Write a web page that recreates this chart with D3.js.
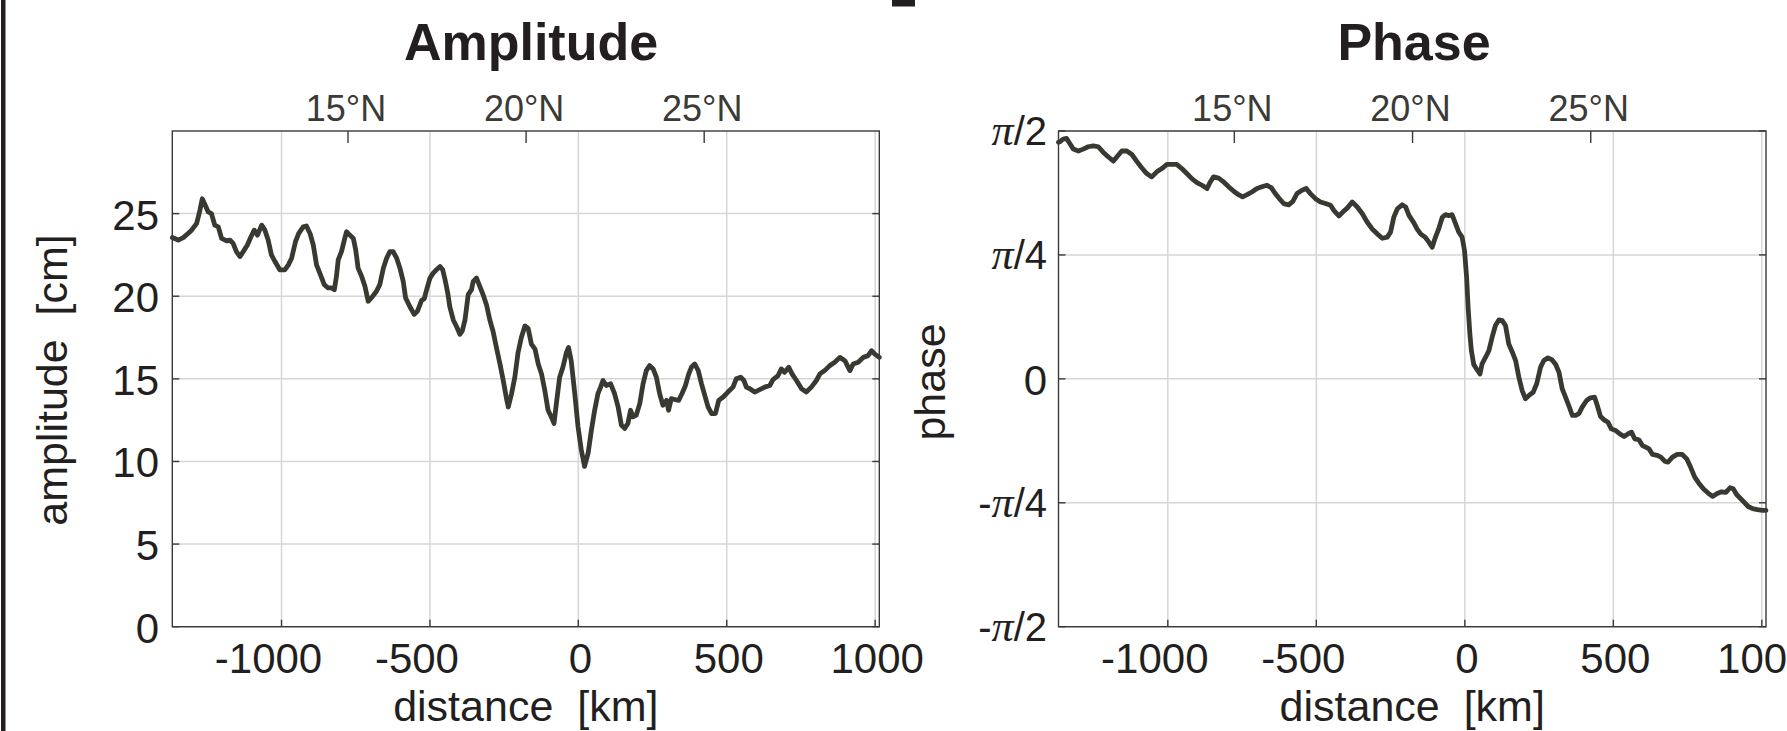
<!DOCTYPE html>
<html>
<head>
<meta charset="utf-8">
<script src="https://cdn.jsdelivr.net/npm/d3@7"></script>
<style>
  html, body { margin: 0; padding: 0; background: #fff; }
  svg { display: block; }
</style>
</head>
<body>
<script>
// ---- data -------------------------------------------------------------
// along-track distance [km] and tidal amplitude [cm]
const ampDist = [-1368,-1348,-1331,-1315,-1303,-1286,-1275,-1267,-1258,-1247,-1236,-1225,-1213,-1202,-1185,-1174,-1163,-1152,-1140,-1129,-1115,-1103,-1092,-1081,-1067,-1056,-1045,-1034,-1022,-1006,-989,-977,-966,-953,-942,-927,-916,-904,-893,-882,-871,-856,-843,-831,-822,-815,-809,-798,-787,-781,-770,-758,-750,-742,-730,-719,-708,-697,-680,-669,-657,-646,-635,-624,-612,-601,-590,-582,-567,-553,-542,-528,-519,-511,-500,-489,-478,-466,-457,-449,-440,-433,-421,-410,-399,-391,-382,-371,-360,-354,-343,-332,-321,-309,-298,-287,-276,-264,-253,-242,-236,-225,-214,-203,-192,-180,-169,-158,-146,-135,-124,-113,-102,-91,-82,-74,-63,-52,-40,-33,-24,-12,-1,10,21,33,44,55,66,75,83,94,109,122,134,145,156,167,176,184,195,207,218,229,240,252,263,274,285,297,304,313,325,338,349,361,372,381,392,404,415,426,437,449,462,473,488,504,521,532,547,558,566,578,594,611,628,645,656,673,684,695,709,720,735,752,768,785,802,814,830,847,864,881,898,915,926,943,960,976,988,999,1014];
const amplitude = [23.55,23.4,23.55,23.8,24.0,24.4,25.2,25.9,25.55,25.1,25.0,24.3,24.2,23.5,23.35,23.4,23.2,22.7,22.4,22.7,23.1,23.6,24.0,23.7,24.3,24.0,23.4,22.5,22.1,21.6,21.6,21.9,22.3,23.3,23.8,24.2,24.25,23.8,23.1,21.9,21.4,20.7,20.5,20.5,20.4,21.2,22.2,22.7,23.5,23.9,23.7,23.5,22.8,21.7,21.2,20.6,19.7,19.9,20.3,20.7,21.7,22.3,22.7,22.7,22.3,21.7,20.9,19.9,19.35,18.9,19.1,19.75,19.85,20.4,21.1,21.4,21.6,21.8,21.6,21.0,20.2,19.35,18.55,18.15,17.7,17.9,18.55,20.1,20.4,20.9,21.1,20.6,20.1,19.45,18.55,17.85,16.9,15.9,14.9,13.8,13.3,14.1,15.1,16.6,17.5,18.2,18.05,17.1,16.8,15.9,15.3,14.3,13.1,12.7,12.3,13.5,15.1,15.7,16.6,16.9,16.1,14.1,12.1,10.7,9.7,10.5,11.9,13.1,14.1,14.5,14.9,14.6,14.7,14.1,13.3,12.2,12.0,12.3,13.1,12.7,12.8,13.5,14.7,15.5,15.8,15.6,15.1,14.1,13.4,13.7,13.1,13.8,13.75,13.7,14.1,14.6,15.3,15.7,15.9,15.5,14.7,14.0,13.3,12.9,12.9,13.7,13.9,14.2,14.5,15.0,15.1,14.9,14.5,14.4,14.2,14.35,14.5,14.6,14.95,15.2,15.6,15.4,15.7,15.3,14.9,14.4,14.2,14.5,14.9,15.3,15.5,15.8,16.0,16.3,16.1,15.5,15.9,16.0,16.3,16.4,16.7,16.5,16.3];

// along-track distance [km] and tidal phase [rad]
const phaseDist = [-1368,-1363,-1352,-1341,-1330,-1318,-1301,-1285,-1268,-1251,-1234,-1217,-1200,-1183,-1172,-1155,-1138,-1121,-1105,-1088,-1071,-1054,-1037,-1020,-1003,-987,-970,-953,-936,-919,-902,-885,-868,-857,-846,-829,-812,-795,-778,-762,-748,-733,-717,-700,-683,-666,-651,-638,-624,-610,-593,-579,-565,-548,-534,-520,-503,-486,-469,-452,-441,-424,-411,-396,-379,-362,-345,-329,-312,-295,-278,-261,-250,-239,-227,-211,-199,-188,-172,-161,-149,-133,-121,-110,-99,-88,-76,-65,-54,-43,-31,-20,-9,-1,6,11,17,22,30,39,51,58,70,81,92,103,115,126,137,148,160,171,182,193,204,216,230,242,255,266,280,294,306,317,328,339,350,362,373,384,395,410,423,437,446,457,469,482,493,508,522,536,549,561,572,586,598,609,620,632,648,660,673,684,699,715,732,747,760,774,788,803,819,834,848,864,879,893,904,915,929,940,954,969,985,1002,1014];
const phase = [1.500,1.503,1.520,1.524,1.492,1.456,1.444,1.456,1.471,1.477,1.471,1.435,1.406,1.380,1.406,1.444,1.444,1.422,1.380,1.338,1.301,1.280,1.312,1.333,1.359,1.359,1.359,1.333,1.301,1.269,1.244,1.227,1.206,1.248,1.280,1.272,1.248,1.217,1.189,1.167,1.153,1.167,1.184,1.206,1.217,1.227,1.210,1.174,1.142,1.111,1.103,1.125,1.174,1.195,1.206,1.174,1.142,1.121,1.111,1.100,1.068,1.032,1.057,1.082,1.121,1.089,1.046,0.994,0.950,0.919,0.891,0.898,0.930,1.025,1.078,1.103,1.089,1.036,0.990,0.950,0.919,0.897,0.866,0.834,0.897,0.950,1.024,1.041,1.034,1.041,0.982,0.929,0.897,0.813,0.644,0.454,0.285,0.179,0.091,0.064,0.031,0.095,0.137,0.179,0.264,0.338,0.374,0.369,0.338,0.221,0.169,0.116,0.010,-0.074,-0.126,-0.105,-0.085,-0.031,0.074,0.116,0.133,0.120,0.091,0.042,-0.064,-0.116,-0.169,-0.232,-0.232,-0.221,-0.179,-0.137,-0.120,-0.116,-0.169,-0.239,-0.260,-0.275,-0.317,-0.328,-0.349,-0.365,-0.349,-0.338,-0.380,-0.386,-0.423,-0.433,-0.444,-0.479,-0.485,-0.496,-0.522,-0.528,-0.496,-0.479,-0.479,-0.507,-0.559,-0.623,-0.661,-0.697,-0.724,-0.745,-0.728,-0.716,-0.720,-0.690,-0.697,-0.733,-0.760,-0.781,-0.809,-0.823,-0.829,-0.834,-0.834];

// axis ticks
const distTicks = [-1000, -500, 0, 500, 1000];
const distTickLabels = ["-1000", "-500", "0", "500", "1000"];
const ampTicks = [0, 5, 10, 15, 20, 25];
const phaseTicks = [-Math.PI / 2, -Math.PI / 4, 0, Math.PI / 4, Math.PI / 2];
// each phase label: [sign, symbol, divisor]
const phaseTickLabels = [["-", "π", "/2"], ["-", "π", "/4"], ["", "", "0"], ["", "π", "/4"], ["", "π", "/2"]];
const latLabels = ["15°N", "20°N", "25°N"];
const latDist = [-776, -176, 424];

// ---- drawing ----------------------------------------------------------
const W = 1787, H = 731;
const SANS = "'Liberation Sans', Arial, Helvetica, sans-serif";
const INK = "#231f20";
const LINE = "#383a32";
const GRID = "#d6d6d6";

const svg = d3.select("body").append("svg")
  .attr("width", W).attr("height", H)
  .attr("viewBox", `0 0 ${W} ${H}`);

// page frame fragments
svg.append("rect").attr("x", 1).attr("y", 0).attr("width", 4.5).attr("height", H).attr("fill", "#231f20");
svg.append("rect").attr("x", 892).attr("y", 0).attr("width", 23).attr("height", 6.5).attr("fill", "#231f20");

function panel(opt) {
  const { left, right, top, bottom } = opt;
  const x = d3.scaleLinear().domain([-1368, 1014]).range([left, right]);
  const y = d3.scaleLinear().domain(opt.yDomain).range([bottom, top]);
  const g = svg.append("g");

  // grid
  g.append("g").selectAll("line").data(distTicks).join("line")
    .attr("x1", d => x(d)).attr("x2", d => x(d))
    .attr("y1", top).attr("y2", bottom)
    .attr("stroke", GRID).attr("stroke-width", 1.5);
  g.append("g").selectAll("line").data(opt.yTicks).join("line")
    .attr("x1", left).attr("x2", right)
    .attr("y1", d => y(d)).attr("y2", d => y(d))
    .attr("stroke", GRID).attr("stroke-width", 1.5);

  // curve
  const pts = opt.xs.map((d, i) => [d, opt.ys[i]]);
  g.append("path").datum(pts)
    .attr("fill", "none").attr("stroke", LINE).attr("stroke-width", 4.8)
    .attr("stroke-linejoin", "round").attr("stroke-linecap", "round")
    .attr("d", d3.line().x(d => x(d[0])).y(d => y(d[1])));

  // box
  g.append("rect").attr("x", left).attr("y", top)
    .attr("width", right - left).attr("height", bottom - top)
    .attr("fill", "none").attr("stroke", "#3a3a3a").attr("stroke-width", 1.4);

  // inward ticks: bottom
  g.append("g").selectAll("line").data(distTicks).join("line")
    .attr("x1", d => x(d)).attr("x2", d => x(d))
    .attr("y1", bottom).attr("y2", bottom - 7)
    .attr("stroke", "#3a3a3a").attr("stroke-width", 1.4);
  // left and right
  [left, right].forEach((xx, k) => {
    g.append("g").selectAll("line").data(opt.yTicks).join("line")
      .attr("x1", xx).attr("x2", k === 0 ? xx + 7 : xx - 7)
      .attr("y1", d => y(d)).attr("y2", d => y(d))
      .attr("stroke", "#3a3a3a").attr("stroke-width", 1.4);
  });
  // latitude ticks on top
  g.append("g").selectAll("line").data(latDist).join("line")
    .attr("x1", d => x(d)).attr("x2", d => x(d))
    .attr("y1", top).attr("y2", top + 12)
    .attr("stroke", "#3a3a3a").attr("stroke-width", 1.4);

  // distance tick labels
  g.append("g").selectAll("text").data(distTicks).join("text")
    .attr("x", d => x(d) + (d < 0 ? -13 : 2)).attr("y", 673)
    .attr("text-anchor", "middle")
    .attr("font-family", SANS).attr("font-size", 42).attr("fill", INK)
    .text((d, i) => distTickLabels[i]);

  // latitude labels
  g.append("g").selectAll("text").data(latLabels).join("text")
    .attr("x", (d, i) => x(latDist[i]) - 2).attr("y", 121)
    .attr("text-anchor", "middle")
    .attr("font-family", SANS).attr("font-size", 36).attr("fill", "#3a3a36")
    .text(d => d);

  // y tick labels
  opt.drawYLabels(g, y);

  // title
  g.append("text").attr("x", opt.titleX).attr("y", 60)
    .attr("text-anchor", "middle")
    .attr("font-family", SANS).attr("font-weight", "bold").attr("font-size", 52)
    .attr("fill", INK).text(opt.title);

  // x label
  g.append("text").attr("x", (left + right) / 2).attr("y", 721)
    .attr("text-anchor", "middle").style("white-space", "pre")
    .attr("font-family", SANS).attr("font-size", 43).attr("fill", INK)
    .text("distance  [km]");

  // y label
  g.append("text")
    .attr("transform", `translate(${opt.yLabelX},${opt.yLabelY}) rotate(-90)`)
    .attr("text-anchor", "middle").style("white-space", "pre")
    .attr("font-family", SANS).attr("font-size", 43).attr("fill", INK)
    .text(opt.yLabel);
}

panel({
  left: 172.3, right: 879.3, top: 131, bottom: 626.7,
  yDomain: [0, 30], yTicks: ampTicks,
  xs: ampDist, ys: amplitude,
  title: "Amplitude", titleX: 531,
  yLabel: "amplitude  [cm]", yLabelX: 67, yLabelY: 380,
  drawYLabels: (g, y) => {
    g.append("g").selectAll("text").data(ampTicks).join("text")
      .attr("x", 159).attr("y", d => y(d) + 16)
      .attr("text-anchor", "end")
      .attr("font-family", SANS).attr("font-size", 42).attr("fill", INK)
      .text(d => d);
  }
});

panel({
  left: 1058.5, right: 1766, top: 131, bottom: 626.7,
  yDomain: [-Math.PI / 2, Math.PI / 2], yTicks: phaseTicks,
  xs: phaseDist, ys: phase,
  title: "Phase", titleX: 1414,
  yLabel: "phase", yLabelX: 945, yLabelY: 382,
  drawYLabels: (g, y) => {
    const t = g.append("g").selectAll("text").data(phaseTicks).join("text")
      .attr("x", 1047).attr("y", d => y(d) + 14)
      .attr("text-anchor", "end")
      .attr("font-family", SANS).attr("font-size", 40).attr("fill", INK);
    t.each(function (d, i) {
      const [sign, sym, rest] = phaseTickLabels[i];
      const el = d3.select(this);
      if (sym === "") {
        el.attr("font-size", 42).attr("y", y(d) + 16).text(rest);
        return;
      }
      if (sign) el.append("tspan").text(sign);
      el.append("tspan").attr("font-family", "'Liberation Serif', 'Times New Roman', serif")
        .attr("font-style", "italic").attr("font-size", 44).text(sym);
      el.append("tspan").text(rest);
    });
  }
});
</script>
</body>
</html>
